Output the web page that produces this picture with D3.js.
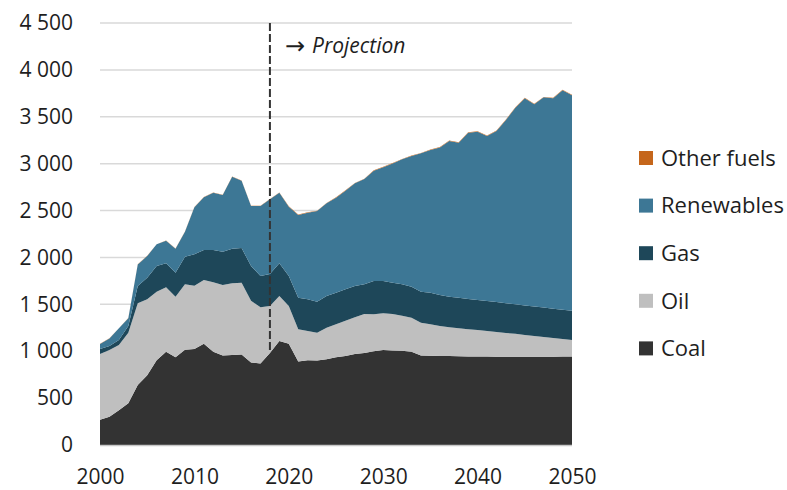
<!DOCTYPE html>
<html>
<head>
<meta charset="utf-8">
<script src="https://cdn.jsdelivr.net/npm/d3@7"></script>
<style>
  html, body { margin: 0; padding: 0; background: #fff; }
  svg text { font-family: "Open Sans", "Noto Sans", sans-serif; fill: #1e1e1e; }
</style>
</head>
<body>
<svg id="chart" width="787" height="490"></svg>
<script>
const years = d3.range(2000, 2051);
const seriesNames = ["Coal", "Oil", "Gas", "Renewables", "Other fuels"];
const coal = [270,300,370,445,640,745,905,995,935,1015,1025,1080,995,955,960,965,880,870,980,1110,1080,890,905,900,915,935,950,970,980,1000,1013,1008,1005,995,955,952,950,948,946,945,944,943,942,941,940,940,940,941,942,943,945];
const oil = [700,713,696,753,871,809,730,686,646,698,674,679,740,751,764,766,659,598,502,479,402,343,310,298,336,352,376,391,417,395,391,389,374,363,349,335,319,307,299,290,281,272,263,254,245,232,222,211,200,188,175];
const gas = [54,43,54,71,184,230,274,256,257,295,334,320,344,355,369,369,370,334,341,348,320,338,339,330,338,337,334,334,316,354,345,334,334,330,331,337,331,326,325,323,322,321,319,317,315,316,314,313,312,312,312];
const renewables = [53,81,124,82,231,231,231,242,255,267,502,562,611,605,768,718,640,747,797,753,739,882,923,967,988,1013,1052,1095,1123,1176,1212,1272,1333,1394,1475,1521,1573,1660,1653,1772,1794,1759,1824,1953,2097,2209,2157,2242,2243,2339,2297];
const otherFuels = [2,2,2,2,2,2,2,2,2,2,3,3,3,3,3,3,3,3,3,3,4,4,4,4,4,4,4,4,4,4,5,5,5,5,5,5,5,5,5,5,5,5,5,5,5,5,5,5,5,5,5];
const yTicks = [0,500,1000,1500,2000,2500,3000,3500,4000,4500];
const xTicks = [2000,2010,2020,2030,2040,2050];
const projectionYear = 2018;
const projectionLabel = "Projection";
const legendOrder = ["Other fuels", "Renewables", "Gas", "Oil", "Coal"];

const colors = {
  "Coal": "#333333",
  "Oil": "#bfbfbf",
  "Gas": "#1e4759",
  "Renewables": "#3d7795",
  "Other fuels": "#c5661b"
};

const table = years.map((yr, i) => ({
  year: yr, "Coal": coal[i], "Oil": oil[i], "Gas": gas[i],
  "Renewables": renewables[i], "Other fuels": otherFuels[i]
}));

const svg = d3.select("#chart");
const mLeft = 100, mRight = 572, mTop = 23, mBottom = 445;
const x = d3.scaleLinear().domain([2000, 2050]).range([mLeft, mRight]);
const y = d3.scaleLinear().domain([0, 4500]).range([mBottom, mTop]);

// gridlines
svg.append("g").selectAll("line").data(yTicks.filter(d => d > 0)).join("line")
  .attr("x1", mLeft).attr("x2", mRight)
  .attr("y1", d => y(d)).attr("y2", d => y(d))
  .attr("stroke", "#d9d9d9").attr("stroke-width", 1.5);

// stacked areas
const stack = d3.stack().keys(seriesNames);
const layers = stack(table);
const area = d3.area()
  .x(d => x(d.data.year))
  .y0(d => y(d[0]))
  .y1(d => y(d[1]));
svg.append("g").selectAll("path").data(layers).join("path")
  .attr("d", area)
  .attr("fill", d => colors[d.key]);

// baseline
svg.append("line")
  .attr("x1", mLeft).attr("x2", mRight)
  .attr("y1", y(0) + 0.5).attr("y2", y(0) + 0.5)
  .attr("stroke", "#c8c8c8").attr("stroke-width", 1.5);

// y axis labels
const yAxis = d3.axisLeft(y).tickValues(yTicks).tickSize(0).tickPadding(0)
  .tickFormat(d => d3.format(",")(d).replace(/,/g, " "));
const gy = svg.append("g").attr("transform", `translate(${mLeft - 27},0)`).call(yAxis);
gy.select(".domain").remove();
gy.selectAll("text").attr("font-size", 21).attr("font-family", "'Open Sans', sans-serif").attr("fill", "#1e1e1e");

// x axis labels
const xAxis = d3.axisBottom(x).tickValues(xTicks).tickSize(0).tickPadding(0).tickFormat(d3.format("d"));
const gx = svg.append("g").attr("transform", `translate(0,${mBottom + 24})`).call(xAxis);
gx.select(".domain").remove();
gx.selectAll("text").attr("font-size", 21).attr("font-family", "'Open Sans', sans-serif").attr("fill", "#1e1e1e");

// projection dashed line
svg.append("line")
  .attr("x1", x(projectionYear)).attr("x2", x(projectionYear))
  .attr("y1", y(4500)).attr("y2", y(1000))
  .attr("stroke", "#333").attr("stroke-width", 2)
  .attr("stroke-dasharray", "8,3");

const pt = svg.append("text")
  .attr("x", x(projectionYear) + 15).attr("y", 53)
  .attr("font-size", 21);
pt.append("tspan").attr("font-family", "'DejaVu Sans', sans-serif").attr("font-size", 24).attr("dy", 1).text("\u2192");
pt.append("tspan").attr("dx", 7).attr("dy", -1).attr("font-style", "italic").text(projectionLabel);

// legend
const lg = svg.append("g").selectAll("g").data(legendOrder).join("g")
  .attr("transform", (d, i) => `translate(639,${158 + i * 47.6})`);
lg.append("rect").attr("x", 0).attr("y", -7).attr("width", 14).attr("height", 14)
  .attr("fill", d => colors[d]);
lg.append("text").attr("x", 22).attr("y", 0).attr("dy", "0.35em")
  .attr("font-size", 22).text(d => d);
</script>
</body>
</html>
